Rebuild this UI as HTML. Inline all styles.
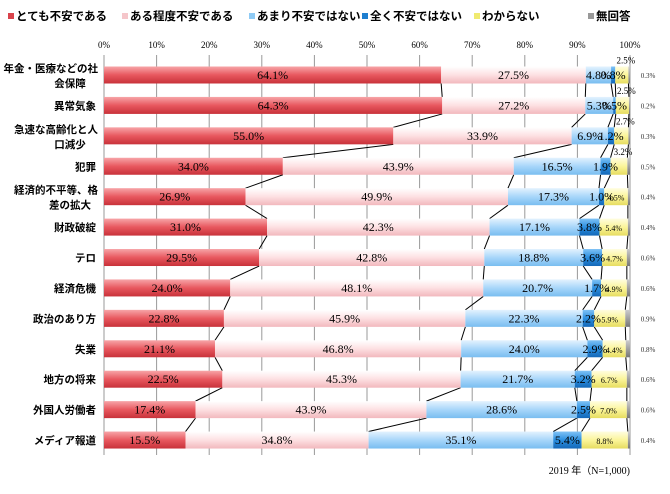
<!DOCTYPE html>
<html><head><meta charset="utf-8"><style>
body{margin:0;background:#fff;font-family:"Liberation Serif","Noto Sans CJK JP",serif}
svg text{font-family:"Liberation Serif","Noto Sans CJK JP",serif}
.jp{font-family:"Liberation Sans","Noto Sans CJK JP",sans-serif;font-weight:bold}
</style></head><body>
<svg id="chart" width="670" height="489" xmlns="http://www.w3.org/2000/svg">
<defs>
<linearGradient id="g0" x1="0" y1="0" x2="0" y2="1"><stop offset="0" stop-color="#f7a5a8"/><stop offset="0.5" stop-color="#e8585f"/><stop offset="1" stop-color="#c8323a"/></linearGradient>
<linearGradient id="g1" x1="0" y1="0" x2="0" y2="1"><stop offset="0" stop-color="#ffffff"/><stop offset="0.5" stop-color="#fde0e2"/><stop offset="1" stop-color="#f2b8bd"/></linearGradient>
<linearGradient id="g2" x1="0" y1="0" x2="0" y2="1"><stop offset="0" stop-color="#e3f2fe"/><stop offset="0.5" stop-color="#a8d6fa"/><stop offset="1" stop-color="#79bdf0"/></linearGradient>
<linearGradient id="g3" x1="0" y1="0" x2="0" y2="1"><stop offset="0" stop-color="#7fc2f5"/><stop offset="0.5" stop-color="#2b8fe0"/><stop offset="1" stop-color="#1468b8"/></linearGradient>
<linearGradient id="g4" x1="0" y1="0" x2="0" y2="1"><stop offset="0" stop-color="#fffde0"/><stop offset="0.5" stop-color="#fbf59a"/><stop offset="1" stop-color="#e6dc60"/></linearGradient>
<linearGradient id="g5" x1="0" y1="0" x2="0" y2="1"><stop offset="0" stop-color="#ccc"/><stop offset="1" stop-color="#777"/></linearGradient>
</defs>
<g id="legend"></g><g id="grid"></g><g id="lines"></g><g id="bars"></g><g id="labels"></g>
<text x="630" y="474" text-anchor="end" font-size="10">2019 年（N=1,000)</text>
</svg>
<script>
const categories=["年金・医療などの社|会保障","異常気象","急速な高齢化と人|口減少","犯罪","経済的不平等、格|差の拡大","財政破綻","テロ","経済危機","政治のあり方","失業","地方の将来","外国人労働者","メディア報道"];
const seriesNames=["とても不安である","ある程度不安である","あまり不安ではない","全く不安ではない","わからない","無回答"];
const s1=[64.1,64.3,55.0,34.0,26.9,31.0,29.5,24.0,22.8,21.1,22.5,17.4,15.5];
const s2=[27.5,27.2,33.9,43.9,49.9,42.3,42.8,48.1,45.9,46.8,45.3,43.9,34.8];
const s3=[4.8,5.3,6.9,16.5,17.3,17.1,18.8,20.7,22.3,24.0,21.7,28.6,35.1];
const s4=[0.8,0.5,1.2,1.9,1.0,3.8,3.6,1.7,2.2,2.9,3.2,2.5,5.4];
const s5=[2.5,2.5,2.7,3.2,4.5,5.4,4.7,4.9,5.9,4.4,6.7,7.0,8.8];
const s6=[0.3,0.2,0.3,0.5,0.4,0.4,0.6,0.6,0.9,0.8,0.6,0.6,0.4];
const ticks=["0%","10%","20%","30%","40%","50%","60%","70%","80%","90%","100%"];
const series=[s1,s2,s3,s4,s5,s6];
const colors=["#d9434b","#f5c6ca","#8fcbf5","#1f7fd0","#f0ea70","#999"];
const NS="http://www.w3.org/2000/svg";
const X0=104,X1=630,Y0=75,DY=30.42,BH=17;
const xs=v=>X0+(X1-X0)*v/100;
const yc=i=>Y0+DY*i;
function mk(tag,attrs,parent,txt){const e=document.createElementNS(NS,tag);for(const k in attrs)e.setAttribute(k,attrs[k]);if(txt!==undefined)e.textContent=txt;document.getElementById(parent).appendChild(e);return e;}
const lx=[8,122,249,362,474,588];
seriesNames.forEach((n,j)=>{
 const r=mk('rect',{x:lx[j],y:13,width:6,height:6,fill:colors[j]},'legend');
 
 
 const t=mk('text',{x:lx[j]+8,y:20,'font-size':11.5,class:'jp'},'legend',n);
 
 
});
ticks.forEach((tk,k)=>{
 const x=xs(k*10);
 const l=mk('line',{x1:x,y1:55,x2:x,y2:455,stroke:'#999','stroke-width':1},'grid');
 
 
 const t=mk('text',{x:x,y:48,'font-size':9,'text-anchor':'middle'},'grid',tk);
 
 
});
categories.forEach((c,i)=>{
 const parts=c.split('|');
 parts.forEach((p,k)=>{
  const y=parts.length===1?yc(i)+4:yc(i)-3+k*15;
  const t=mk('text',{x:parts.length===1?96:98,y:y,'font-size':10.5,'text-anchor':parts.length===1?'end':(k===0?'end':'middle'),class:'jp'},'labels',p);
  if(parts.length>1&&k===1){t.setAttribute('x',70);}
  
  
 });
});
const cum=categories.map((_,i)=>{let a=[0];series.forEach(s=>a.push(a[a.length-1]+s[i]));return a;});
for(let j=1;j<=5;j++){
 for(let i=0;i<categories.length-1;i++){
  const l=mk('line',{x1:xs(cum[i][j]),y1:yc(i)+BH/2,x2:xs(cum[i+1][j]),y2:yc(i+1)-BH/2,stroke:'#000','stroke-width':1},'lines');
  
  
 }
}
categories.forEach((c,i)=>{
 series.forEach((s,j)=>{
  const x=xs(cum[i][j]),w=xs(cum[i][j+1])-x;
  const r=mk('rect',{x:x,y:yc(i)-BH/2,width:Math.max(w,0.5),height:BH,fill:'url(#g'+j+')'},'bars');
  
  
  const v=s[i].toFixed(1)+'%';
  let t;
  if(j===5){
   t=mk('text',{x:648,y:yc(i)+3,'font-size':7,'text-anchor':'middle',fill:'#333'},'labels',v);
  }else if(j===4&&i<4){
   t=mk('text',{x:x+w/2+4,y:yc(i)-BH/2-3,'font-size':9,'text-anchor':'middle'},'labels',v);
  }else{
   const fs=j===4?8:12;
   t=mk('text',{x:x+w/2,y:yc(i)+4,'font-size':fs,'text-anchor':'middle'},'labels',v);
  }
  
  
 });
});
</script>
</body></html>
